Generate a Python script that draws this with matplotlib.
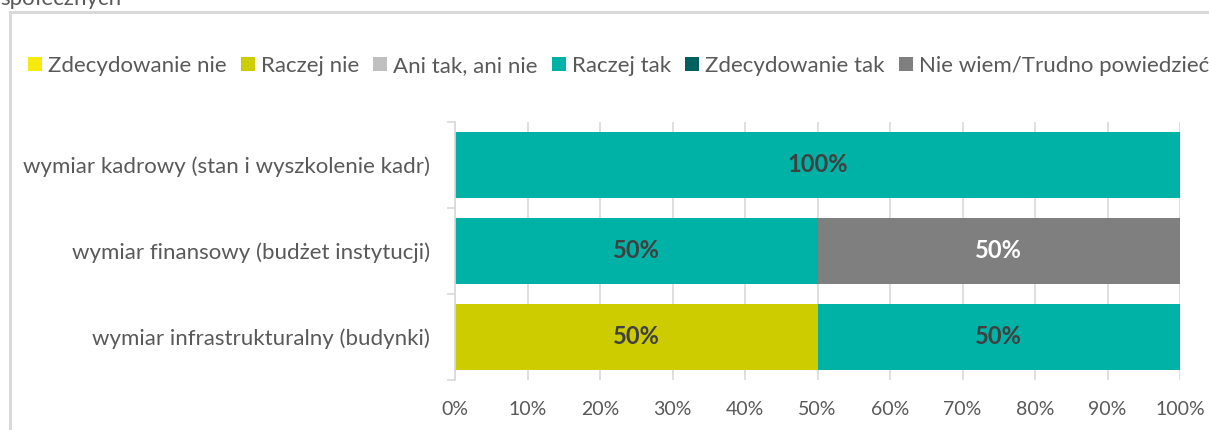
import numpy as np
import matplotlib.pyplot as plt
from matplotlib.patches import Rectangle, Patch

plt.rcParams['font.family'] = ['Lato', 'DejaVu Sans']

# dane
kategorie = ['wymiar infrastrukturalny (budynki)',
             'wymiar finansowy (budżet instytucji)',
             'wymiar kadrowy (stan i wyszkolenie kadr)']
serie = ['Zdecydowanie nie', 'Raczej nie', 'Ani tak, ani nie',
         'Raczej tak', 'Zdecydowanie tak', 'Nie wiem/Trudno powiedzieć']
zdecydowanie_nie = [0, 0, 0]
raczej_nie = [50, 0, 0]
ani_tak_ani_nie = [0, 0, 0]
raczej_tak = [50, 50, 100]
zdecydowanie_tak = [0, 0, 0]
nie_wiem = [0, 50, 0]
kolory = ['#f7e909', '#cccc00', '#bfbfbf', '#00b2a6', '#005f5f', '#7f7f7f']
kolory_etykiet = ['#404040', '#404040', '#404040', '#404040', '#ffffff', '#ffffff']
os_x = [0, 10, 20, 30, 40, 50, 60, 70, 80, 90, 100]

wartosci = [zdecydowanie_nie, raczej_nie, ani_tak_ani_nie,
            raczej_tak, zdecydowanie_tak, nie_wiem]

fig = plt.figure(figsize=(12.09, 4.30), dpi=100)
szary = '#595959'

# ramka wykresu
fig.patches.append(Rectangle((10/1209, -0.1), 1.1, 1 - 12/430 + 0.1,
                             transform=fig.transFigure, fill=False,
                             edgecolor='#d9d9d9', linewidth=2.2))
# ucięty tytuł
fig.text(0.0, 1 - 5/430, 'społecznych', fontsize=16, color=szary, va='baseline')

ax = fig.add_axes([455/1209, 1 - 380/430, (1180 - 455)/1209, (380 - 122)/430])
y = np.arange(len(kategorie))
lewo = np.zeros(len(kategorie))
for nazwa, w, k, ke in zip(serie, wartosci, kolory, kolory_etykiet):
    w = np.array(w, dtype=float)
    ax.barh(y, w, left=lewo, height=0.77, color=k, label=nazwa, zorder=2)
    for yi, (l, v) in enumerate(zip(lewo, w)):
        if v > 0:
            ax.text(l + v / 2, yi, f'{v:.0f}%', ha='center', va='center',
                    fontsize=17, fontweight='bold', color=ke, zorder=3)
    lewo += w

ax.set_xlim(0, 100)
ax.set_ylim(-0.5, len(kategorie) - 0.5)
ax.set_xticks(os_x)
ax.set_xticklabels([f'{v}%' for v in os_x])
ax.set_yticks(y)
ax.set_yticklabels(kategorie)
ax.set_yticks(np.arange(-0.5, len(kategorie)), minor=True)
ax.tick_params(axis='y', which='major', length=0, pad=18, labelsize=16, labelcolor=szary)
ax.tick_params(axis='y', which='minor', length=6, color='#d9d9d9', width=1.2)
ax.tick_params(axis='x', length=0, pad=15, labelsize=14, labelcolor=szary)
ax.grid(axis='x', color='#d9d9d9', linewidth=1.2, zorder=0)
for s in ['top', 'right', 'bottom']:
    ax.spines[s].set_visible(False)
ax.spines['left'].set_color('#d9d9d9')
ax.spines['left'].set_linewidth(1.2)

uchwyty = [Patch(facecolor=k, label=n) for n, k in zip(serie, kolory)]
fig.legend(handles=uchwyty, loc='center left', bbox_to_anchor=(28/1209, 1 - 66/430),
           ncol=6, frameon=False, fontsize=16, labelcolor=szary,
           handlelength=0.63, handleheight=0.63, handletextpad=0.27, columnspacing=0.64,
           borderaxespad=0, borderpad=0)

fig.savefig('out.png', dpi=100)
